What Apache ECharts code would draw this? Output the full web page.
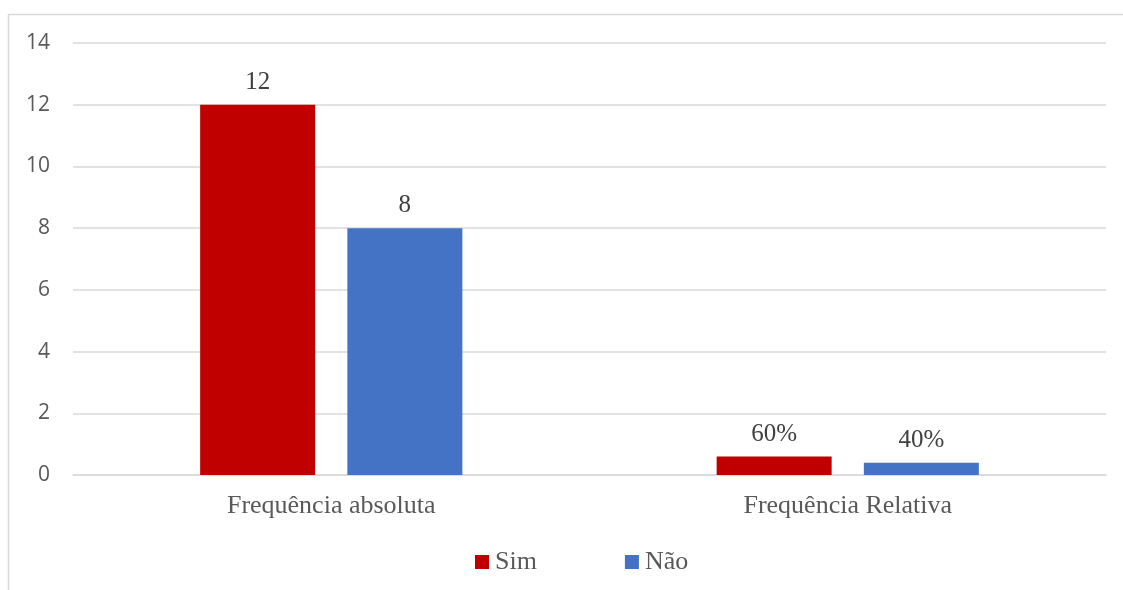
<!DOCTYPE html>
<html>
<head>
<meta charset="utf-8">
<script src="https://cdn.jsdelivr.net/npm/echarts@6/dist/echarts.min.js"></script>
<style>
  html, body { margin: 0; padding: 0; background: #fff; }
  #chart { width: 1123px; height: 590px; }
</style>
</head>
<body>
<div id="chart"></div>
<script>
const categories = ['Frequência absoluta', 'Frequência Relativa']
const simValues = [12, 0.6]
const naoValues = [8, 0.4]
const simLabels = ['12', '60%']
const naoLabels = ['8', '40%']
const yTicks = [0, 2, 4, 6, 8, 10, 12, 14]

const chart = echarts.init(document.getElementById('chart'))

const serif = '"Liberation Serif", "Times New Roman", serif'

const labelFor = (texts) => ({
  show: true,
  position: 'top',
  distance: 10,
  fontFamily: serif,
  fontSize: 25,
  color: '#404040',
  formatter: (p) => texts[p.dataIndex],
})

const option = {
  backgroundColor: '#fff',
  animation: false,
  graphic: [{
    type: 'rect',
    shape: { x: 8.5, y: 14.5, width: 1300, height: 700 },
    style: { fill: 'none', stroke: '#d9d9d9', lineWidth: 1.5 },
    silent: true,
  }],
  grid: { left: 73, right: 17, top: 43, bottom: 115 },
  legend: {
    data: ['Sim', 'Não'],
    bottom: 10,
    left: 470,
    itemWidth: 14,
    itemHeight: 14,
    itemGap: 88,
    icon: 'rect',
    textStyle: { fontFamily: serif, fontSize: 26, color: '#595959', padding: [0, 0, 0, 1] },
  },
  xAxis: {
    type: 'category',
    data: categories,
    axisLine: { lineStyle: { color: '#d9d9d9', width: 1.5 } },
    axisTick: { show: false },
    axisLabel: { fontFamily: serif, fontSize: 26, color: '#595959', margin: 18 },
  },
  yAxis: {
    type: 'value',
    min: yTicks[0],
    max: yTicks[yTicks.length - 1],
    interval: 2,
    axisLine: { show: false },
    axisTick: { show: false },
    splitLine: { lineStyle: { color: '#d9d9d9', width: 1.5 } },
    axisLabel: { fontFamily: '"Open Sans", "Liberation Sans", sans-serif', fontSize: 21, color: '#595959', margin: 23 },
  },
  series: [
    {
      name: 'Sim',
      type: 'bar',
      data: simValues,
      barWidth: 115,
      barGap: '28%',
      itemStyle: { color: '#c00000' },
      label: labelFor(simLabels),
    },
    {
      name: 'Não',
      type: 'bar',
      data: naoValues,
      barWidth: 115,
      itemStyle: { color: '#4472c4' },
      label: labelFor(naoLabels),
    },
  ],
}

chart.setOption(option)
window.addEventListener('resize', () => chart.resize())
</script>
</body>
</html>
